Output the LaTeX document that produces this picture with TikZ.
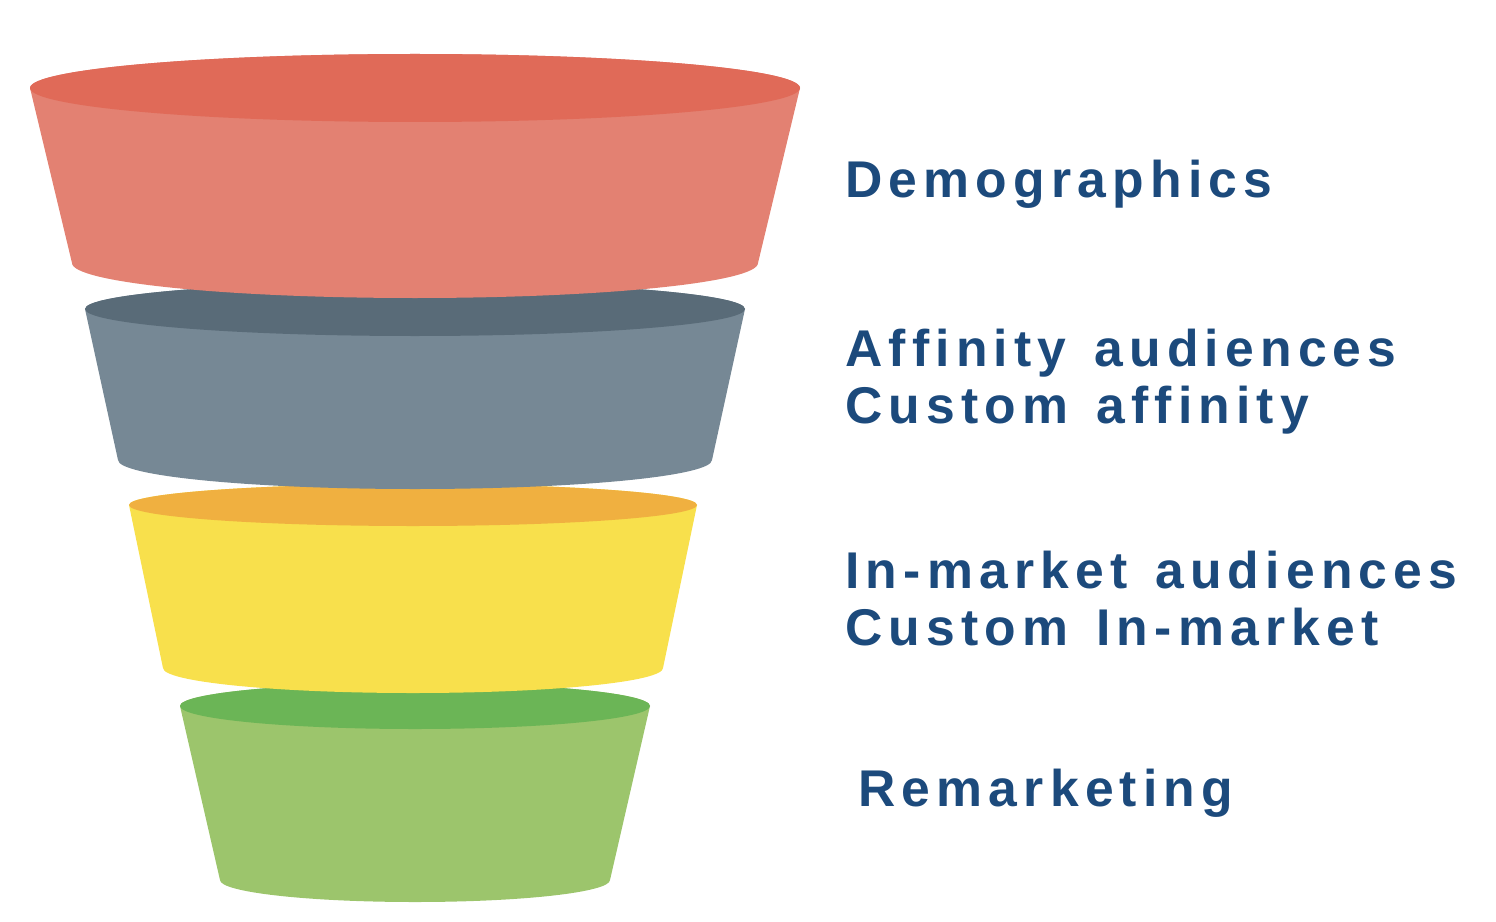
\documentclass[tikz,border=0pt]{standalone}
\usepackage{fontspec}
\setmainfont{Liberation Sans}
\newfontfamily\labelfont[LetterSpace=12,WordSpace=1.35]{Liberation Sans Bold}
\definecolor{redtop}{RGB}{224,106,88}
\definecolor{redbody}{RGB}{227,129,114}
\definecolor{graytop}{RGB}{89,107,120}
\definecolor{graybody}{RGB}{118,136,149}
\definecolor{yeltop}{RGB}{240,176,64}
\definecolor{yelbody}{RGB}{248,224,76}
\definecolor{grntop}{RGB}{107,181,86}
\definecolor{grnbody}{RGB}{156,197,108}
\definecolor{txtblue}{RGB}{28,74,124}
\newcommand\funnelseg[9]{%
  \fill[#9] ({#1-#3},#2) -- ({#1-#6},#5)
    arc[start angle=180,end angle=360,x radius=#6,y radius=#7]
    -- ({#1+#3},#2)
    arc[start angle=0,end angle=180,x radius=#3,y radius=#4] -- cycle;
  \fill[#8] (#1,#2) ellipse[x radius=#3,y radius=#4];
}
\tikzset{lbl/.style={anchor=base west,inner sep=0pt,text=txtblue,font=\labelfont\fontsize{29.4pt}{33pt}\selectfont}}
\begin{document}
\begin{tikzpicture}[x=0.02cm,y=0.02cm]
\useasboundingbox (0,0) rectangle (1496,921);
% green (bottom)
\funnelseg{415}{215}{235}{23}{41}{195}{22}{grntop}{grnbody}
% yellow
\funnelseg{413}{416}{284}{21}{253}{250}{25}{yeltop}{yelbody}
% gray
\funnelseg{415}{612}{330}{27}{461}{297}{29}{graytop}{graybody}
% red (top)
\funnelseg{415}{833}{385}{34}{658}{343}{35}{redtop}{redbody}
% labels
\node[lbl] (demo) at (845,724) {Demographics};
\node[lbl] (aff1) at (845,555) {Affinity audiences};
\node[lbl] (aff2) at (845,498) {Custom affinity};
\node[lbl] (inm1) at (845,333) {In-market audiences};
\node[lbl] (inm2) at (845,276) {Custom In-market};
\node[lbl] (rem) at (858,115) {Remarketing};
\end{tikzpicture}
\end{document}
